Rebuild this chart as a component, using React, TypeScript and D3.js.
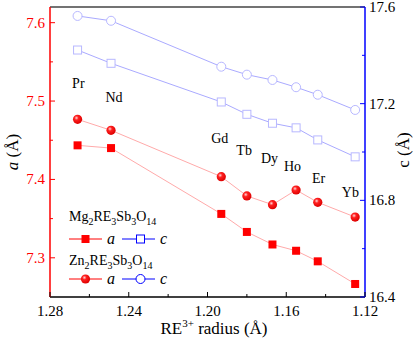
import React from "react";
import * as d3 from "d3";

const elements = ["Pr", "Nd", "Gd", "Tb", "Dy", "Ho", "Er", "Yb"];
const radius = [1.266, 1.249, 1.193, 1.18, 1.167, 1.155, 1.144, 1.125];
const mgA = [7.4435, 7.44, 7.356, 7.333, 7.317, 7.309, 7.2955, 7.2666];
const znA = [7.4767, 7.4627, 7.4035, 7.3789, 7.3678, 7.3865, 7.3708, 7.352];
const mgC = [17.422, 17.367, 17.207, 17.156, 17.119, 17.1, 17.05, 16.98];
const znC = [17.563, 17.543, 17.353, 17.32, 17.298, 17.268, 17.237, 17.174];
const xTicks = [1.28, 1.24, 1.2, 1.16, 1.12];
const xMinor = [1.26, 1.22, 1.18, 1.14];
const aTicks = [7.3, 7.4, 7.5, 7.6];
const aMinor = [7.35, 7.45, 7.55];
const cTicks = [16.4, 16.8, 17.2, 17.6];
const cMinor = [16.6, 17.0, 17.4];
// element label heights, in a-axis units
const labelY = [7.5167, 7.4988, 7.4465, 7.431, 7.421, 7.4108, 7.3955, 7.3776];
const labelR = [1.2656, 1.2475, 1.1938, 1.1814, 1.1685, 1.1568, 1.1436, 1.1274];

const L = 50, R = 365, T = 7, B = 297;
const FONT = "Liberation Serif";

export default function App() {
  const x = d3.scaleLinear().domain([1.28, 1.12]).range([L, R]);
  const ya = d3.scaleLinear().domain([7.25, 7.62]).range([B, T]);
  const yc = d3.scaleLinear().domain([16.4, 17.6]).range([B, T]);

  const lineA = (vals: number[]) =>
    d3.line<number>().x((_, i) => x(radius[i])).y((v) => ya(v))(vals) || "";
  const lineC = (vals: number[]) =>
    d3.line<number>().x((_, i) => x(radius[i])).y((v) => yc(v))(vals) || "";

  const red = "#ff0000";
  const lightRed = "#ffaaaa";
  const blue = "#0000ff";
  const lightBlue = "#aaaaff";
  const markerBlue = "#b8b8ff";

  const sphere = (cx: number, cy: number, key: string | number, r = 4.6) => (
    <circle key={key} cx={cx} cy={cy} r={r} fill="url(#sph)" />
  );
  const sq = (cx: number, cy: number, key: string | number, s = 8) => (
    <rect key={key} x={cx - s / 2} y={cy - s / 2} width={s} height={s} fill={red} />
  );

  const sub = (s: string) => (
    <tspan dy={4} fontSize={10}>{s}</tspan>
  );

  return (
    <div style={{ position: "absolute", left: 0, top: 0 }}>
      <svg width={415} height={338}>
        <defs>
          <radialGradient id="sph" cx="0.38" cy="0.35" r="0.65">
            <stop offset="0" stopColor="#ffd8d8" />
            <stop offset="0.35" stopColor="#ff2020" />
            <stop offset="1" stopColor="#dd0000" />
          </radialGradient>
        </defs>
        <rect width={415} height={338} fill="#fff" />

        {/* series lines */}
        <path d={lineC(znC)} fill="none" stroke={lightBlue} strokeWidth={1} />
        <path d={lineC(mgC)} fill="none" stroke={lightBlue} strokeWidth={1} />
        <path d={lineA(znA)} fill="none" stroke={lightRed} strokeWidth={1} />
        <path d={lineA(mgA)} fill="none" stroke={lightRed} strokeWidth={1} />

        {/* markers */}
        {znC.map((v, i) => (
          <circle key={"zc" + i} cx={x(radius[i])} cy={yc(v)} r={4.5} fill="#fff" stroke={markerBlue} strokeWidth={1} />
        ))}
        {mgC.map((v, i) => (
          <rect key={"mc" + i} x={x(radius[i]) - 4} y={yc(v) - 4} width={8} height={8} fill="#fff" stroke={markerBlue} strokeWidth={1} />
        ))}
        {mgA.map((v, i) => sq(x(radius[i]), ya(v), "ma" + i))}
        {znA.map((v, i) => sphere(x(radius[i]), ya(v), "za" + i))}

        {/* element labels */}
        {elements.map((e, i) => (
          <text key={e} x={x(labelR[i])} y={ya(labelY[i])} fontSize={14} fontFamily={FONT} textAnchor="middle" fill="#000">
            {e}
          </text>
        ))}

        {/* frame */}
        <line x1={L} x2={R} y1={T} y2={T} stroke="#444" strokeWidth={1.5} />
        <line x1={L} x2={R} y1={B} y2={B} stroke="#000" strokeWidth={1.5} />
        <line x1={L} x2={L} y1={T} y2={B} stroke={red} strokeWidth={1.5} />
        <line x1={R} x2={R} y1={T} y2={B} stroke={blue} strokeWidth={1.5} />

        {/* x ticks */}
        {xTicks.map((t) => (
          <line key={"xt" + t} x1={x(t)} x2={x(t)} y1={B} y2={B - 5} stroke="#000" strokeWidth={1} />
        ))}
        {xTicks.map((t) => (
          <text key={"xl" + t} x={x(t)} y={B + 19} fontSize={15} fontFamily={FONT} textAnchor="middle">{t.toFixed(2)}</text>
        ))}
        {xMinor.map((t) => (
          <line key={"xm" + t} x1={x(t)} x2={x(t)} y1={B} y2={B - 3} stroke="#000" strokeWidth={1} />
        ))}

        {/* left ticks */}
        {aTicks.map((t) => (
          <line key={"at" + t} x1={L} x2={L + 5} y1={ya(t)} y2={ya(t)} stroke={red} strokeWidth={1} />
        ))}
        {aTicks.map((t) => (
          <text key={"al" + t} x={L - 5} y={ya(t) + 5} fontSize={15} fontFamily={FONT} textAnchor="end" fill={red}>{t.toFixed(1)}</text>
        ))}
        {aMinor.map((t) => (
          <line key={"am" + t} x1={L} x2={L + 3} y1={ya(t)} y2={ya(t)} stroke={red} strokeWidth={1} />
        ))}

        {/* right ticks */}
        {cTicks.map((t) => (
          <line key={"ct" + t} x1={R} x2={R - 5} y1={yc(t)} y2={yc(t)} stroke={blue} strokeWidth={1} />
        ))}
        {cTicks.map((t) => (
          <text key={"cl" + t} x={R + 4} y={yc(t) + 5} fontSize={15} fontFamily={FONT} textAnchor="start" fill="#000">{t.toFixed(1)}</text>
        ))}
        {cMinor.map((t) => (
          <line key={"cm" + t} x1={R} x2={R - 3} y1={yc(t)} y2={yc(t)} stroke={blue} strokeWidth={1} />
        ))}

        {/* axis titles */}
        <text x={214} y={334} fontSize={17} fontFamily={FONT} textAnchor="middle">
          RE<tspan dy={-7} fontSize={11}>3+</tspan><tspan dy={7}> radius (Å)</tspan>
        </text>
        <text transform="translate(18,152) rotate(-90)" fontSize={17} fontFamily={FONT} textAnchor="middle">
          <tspan fontStyle="italic">a</tspan> (Å)
        </text>
        <text transform="translate(409,150) rotate(-90)" fontSize={17} fontFamily={FONT} textAnchor="middle">
          c (Å)
        </text>

        {/* legend */}
        <text x={69} y={221} fontSize={14} fontFamily={FONT}>
          Mg{sub("2")}<tspan dy={-4}>RE</tspan>{sub("3")}<tspan dy={-4}>Sb</tspan>{sub("3")}<tspan dy={-4}>O</tspan>{sub("14")}
        </text>
        <line x1={69} x2={102} y1={239} y2={239} stroke={red} strokeWidth={1} />
        {sq(85.5, 239, "lg1")}
        <text x={107} y={244} fontSize={16} fontFamily={FONT} fontStyle="italic">a</text>
        <line x1={122} x2={155} y1={239} y2={239} stroke={blue} strokeWidth={1} />
        <rect x={136.5} y={235} width={8} height={8} fill="#fff" stroke={blue} strokeWidth={1} />
        <text x={160} y={244} fontSize={16} fontFamily={FONT} fontStyle="italic">c</text>

        <text x={69} y={265} fontSize={14} fontFamily={FONT}>
          Zn{sub("2")}<tspan dy={-4}>RE</tspan>{sub("3")}<tspan dy={-4}>Sb</tspan>{sub("3")}<tspan dy={-4}>O</tspan>{sub("14")}
        </text>
        <line x1={69} x2={102} y1={279} y2={279} stroke={red} strokeWidth={1} />
        {sphere(85.5, 279, "lg2")}
        <text x={107} y={284} fontSize={16} fontFamily={FONT} fontStyle="italic">a</text>
        <line x1={122} x2={155} y1={279} y2={279} stroke={blue} strokeWidth={1} />
        <circle cx={140.5} cy={279} r={4.5} fill="#fff" stroke={blue} strokeWidth={1} />
        <text x={160} y={284} fontSize={16} fontFamily={FONT} fontStyle="italic">c</text>
      </svg>
    </div>
  );
}
